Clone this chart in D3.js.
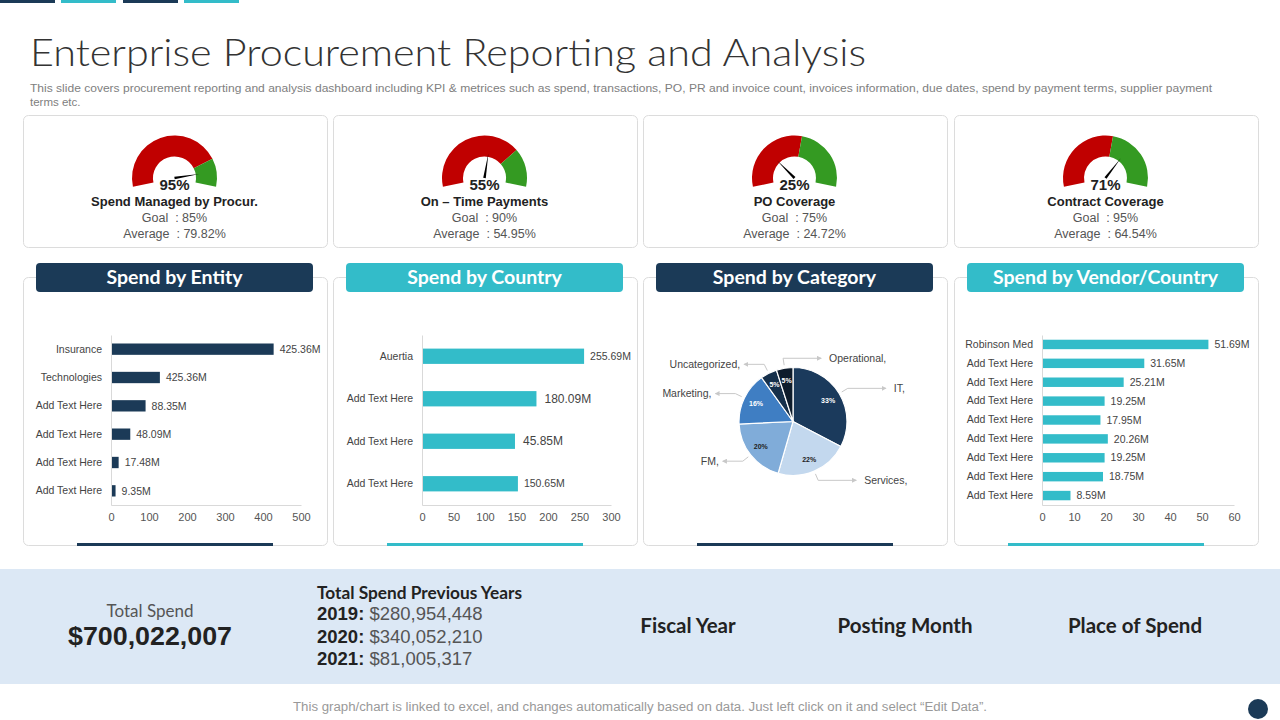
<!DOCTYPE html>
<html>
<head>
<meta charset="utf-8">
<script src="https://cdn.jsdelivr.net/npm/d3@7"></script>
<style>
  body { margin: 0; background: #fff; }
  svg { display: block; }
  .pre { white-space: pre; }
</style>
</head>
<body>
<div id="chart"></div>
<script>
// ---- data ----
const kpiTitles = ["Spend Managed by Procur.", "On \u2013 Time Payments", "PO Coverage", "Contract Coverage"];
const kpiValues = [95, 55, 25, 71];
const kpiGoals = ["85%", "90%", "75%", "95%"];
const kpiAverages = ["79.82%", "54.95%", "24.72%", "64.54%"];
const kpiRedShare = [81, 74, 55, 55];   // share of the dial drawn red

const entityNames = ["Insurance", "Technologies", "Add Text Here", "Add Text Here", "Add Text Here", "Add Text Here"];
const entityValues = [425.36, 126, 88.35, 48.09, 17.48, 9.35];
const entityLabels = ["425.36M", "425.36M", "88.35M", "48.09M", "17.48M", "9.35M"];
const entityTicks = [0, 100, 200, 300, 400, 500];

const countryNames = ["Auertia", "Add Text Here", "Add Text Here", "Add Text Here"];
const countryValues = [255.69, 180.09, 146, 150.65];
const countryLabels = ["255.69M", "180.09M", "45.85M", "150.65M"];
const countryTicks = [0, 50, 100, 150, 200, 250, 300];

const categoryNames = ["IT", "Services", "FM", "Marketing", "Uncategorized", "Operational"];
const categoryShares = [33, 22, 20, 16, 5, 5];

const vendorNames = ["Robinson Med", "Add Text Here", "Add Text Here", "Add Text Here", "Add Text Here",
  "Add Text Here", "Add Text Here", "Add Text Here", "Add Text Here"];
const vendorValues = [51.69, 31.65, 25.21, 19.25, 17.95, 20.26, 19.25, 18.75, 8.59];
const vendorTicks = [0, 10, 20, 30, 40, 50, 60];

const prevYears = ["2019:", "2020:", "2021:"];
const prevSpend = ["$280,954,448", "$340,052,210", "$81,005,317"];
const totalSpend = "$700,022,007";
const filters = ["Fiscal Year", "Posting Month", "Place of Spend"];

// ---- styles ----
const NAVY = "#1b3a57", TEAL = "#33bcc9", RED = "#c00000", GREEN = "#349a22";
const HEAD = "Lato, 'Open Sans', sans-serif";
const BODY = "'Liberation Sans', Arial, sans-serif";

const svg = d3.select("#chart").append("svg")
  .attr("width", 1280).attr("height", 720);

// top strips
[[0, NAVY], [61, TEAL], [123, NAVY], [184, TEAL]].forEach(([x, c]) => {
  svg.append("rect").attr("x", x).attr("y", 0).attr("width", 55).attr("height", 3).attr("fill", c);
});

svg.append("text")
  .attr("x", 30).attr("y", 66)
  .attr("textLength", 836).attr("lengthAdjust", "spacingAndGlyphs")
  .style("font-family", HEAD).style("font-weight", 300).style("font-size", "38px")
  .attr("fill", "#333")
  .text("Enterprise Procurement Reporting and Analysis");

const sub = svg.append("g").style("font-family", BODY).style("font-size", "11.5px").attr("fill", "#808080");
sub.append("text").attr("x", 30).attr("y", 92)
  .attr("textLength", 1182).attr("lengthAdjust", "spacingAndGlyphs")
  .text("This slide covers procurement reporting and analysis dashboard including KPI & metrices such as spend, transactions, PO, PR and invoice count, invoices information, due dates, spend by payment terms, supplier payment");
sub.append("text").attr("x", 30).attr("y", 106).text("terms etc.");

const cardX = [23, 333, 643, 954];
const cardW = 304;

function card(x, y, h) {
  svg.append("rect").attr("x", x + 0.5).attr("y", y + 0.5).attr("width", cardW).attr("height", h)
    .attr("rx", 5).attr("fill", "#fff").attr("stroke", "#dcdcdc");
}

// ---- KPI gauges ----
const dialScale = d3.scaleLinear().domain([0, 100]).range([-102, 102].map(d => d * Math.PI / 180));
const needleScale = d3.scaleLinear().domain([0, 100]).range([-Math.PI / 2, Math.PI / 2]);
const gaugeArc = d3.arc().innerRadius(21.5).outerRadius(42.5);

kpiTitles.forEach((title, i) => {
  const x0 = cardX[i];
  card(x0, 115, 132);
  const cx = x0 + 151.5, cy = 178;
  const g = svg.append("g").attr("transform", `translate(${cx},${cy})`);
  g.append("path").attr("d", gaugeArc({ startAngle: dialScale(0), endAngle: dialScale(kpiRedShare[i]) })).attr("fill", RED);
  g.append("path").attr("d", gaugeArc({ startAngle: dialScale(kpiRedShare[i]), endAngle: dialScale(100) })).attr("fill", GREEN);

  const a = needleScale(kpiValues[i]);
  const tip = [25 * Math.sin(a), -25 * Math.cos(a)];
  const px = Math.cos(a) * 1.3, py = Math.sin(a) * 1.3;
  g.append("path")
    .attr("d", `M${-px},${-py}L${tip[0]},${tip[1]}L${px},${py}Z`)
    .attr("fill", "#000");

  g.append("text").attr("y", 12).attr("text-anchor", "middle")
    .style("font-family", BODY).style("font-weight", "bold").style("font-size", "15px")
    .attr("fill", "#222").text(kpiValues[i] + "%");

  const t = svg.append("g").attr("text-anchor", "middle").style("font-family", BODY);
  t.append("text").attr("x", cx).attr("y", 206).style("font-weight", "bold").style("font-size", "13px")
    .attr("fill", "#222").text(title);
  t.append("text").attr("x", cx).attr("y", 222).style("font-size", "12.5px").attr("fill", "#555")
    .attr("class", "pre").text("Goal  : " + kpiGoals[i]);
  t.append("text").attr("x", cx).attr("y", 238).style("font-size", "12.5px").attr("fill", "#555")
    .attr("class", "pre").text("Average  : " + kpiAverages[i]);
});

// ---- chart cards ----
const tabTitles = ["Spend by Entity", "Spend by Country", "Spend by Category", "Spend by Vendor/Country"];
const tabColors = [NAVY, TEAL, NAVY, TEAL];

tabTitles.forEach((title, i) => {
  const x0 = cardX[i];
  card(x0, 277, 268);
  svg.append("rect").attr("x", x0 + 13).attr("y", 263).attr("width", 277).attr("height", 29)
    .attr("rx", 4).attr("fill", tabColors[i]);
  svg.append("text").attr("x", x0 + 151.5).attr("y", 284).attr("text-anchor", "middle")
    .style("font-family", HEAD).style("font-weight", "bold").style("font-size", "19.5px")
    .attr("fill", "#fff").text(title);
  svg.append("rect").attr("x", x0 + 54).attr("y", 543).attr("width", 196).attr("height", 3)
    .attr("fill", tabColors[i]);
});

function barChart(opt) {
  const x = d3.scaleLinear().domain(opt.domain).range([opt.left, opt.right]);
  const y = d3.scaleBand().domain(d3.range(opt.names.length)).range([335, 505]).paddingInner(opt.pad).paddingOuter(opt.pad / 2);
  const g = svg.append("g");

  const xAxis = g.append("g").attr("transform", "translate(0,505)")
    .call(d3.axisBottom(x).tickValues(opt.ticks).tickSize(0).tickPadding(8).tickFormat(d3.format("d")));
  xAxis.select(".domain").attr("stroke", "#d9d9d9");
  xAxis.selectAll("text").style("font-family", BODY).style("font-size", "11px").attr("fill", "#555");

  const yAxis = g.append("g").attr("transform", `translate(${opt.left},0)`)
    .call(d3.axisLeft(y).tickSize(0).tickPadding(9).tickFormat(i => opt.names[i]));
  yAxis.select(".domain").attr("stroke", "#d9d9d9");
  yAxis.selectAll("text").style("font-family", BODY).style("font-size", "10.5px").attr("fill", "#444");

  g.selectAll(".bar").data(opt.values).join("rect")
    .attr("class", "bar")
    .attr("x", x(0) + 1)
    .attr("y", (d, i) => y(i))
    .attr("width", d => x(d) - x(0))
    .attr("height", y.bandwidth())
    .attr("fill", opt.color);

  g.selectAll(".val").data(opt.values).join("text")
    .attr("class", "val")
    .attr("x", (d, i) => x(d) + (opt.big.includes(i) ? 9 : 7))
    .attr("y", (d, i) => y(i) + y.bandwidth() / 2)
    .attr("dy", "0.35em")
    .style("font-family", BODY)
    .style("font-size", (d, i) => opt.big.includes(i) ? "12px" : "10.5px")
    .attr("fill", "#444")
    .text((d, i) => opt.labels[i]);
}

barChart({ names: entityNames, values: entityValues, labels: entityLabels, ticks: entityTicks,
  domain: [0, 500], left: 111, right: 301, pad: 0.6, color: NAVY, big: [] });
barChart({ names: countryNames, values: countryValues, labels: countryLabels, ticks: countryTicks,
  domain: [0, 300], left: 422, right: 611, pad: 0.64, color: TEAL, big: [1, 2] });
barChart({ names: vendorNames, values: vendorValues, labels: vendorValues.map(v => v.toFixed(2) + "M"), ticks: vendorTicks,
  domain: [0, 60], left: 1042, right: 1234, pad: 0.5, color: TEAL, big: [] });

// ---- pie ----
const pieColors = ["#1b3a5c", "#c3d8ee", "#80acd9", "#3f7ec3", "#16304b", "#0e1c2c"];
const pieText = ["#fff", "#222", "#222", "#fff", "#fff", "#fff"];
const R = 54, pcx = 793, pcy = 421.5;
const pie = d3.pie().sort(null).value(d => d)(categoryShares);
const arc = d3.arc().innerRadius(0).outerRadius(R);
const labelArc = d3.arc().innerRadius(R * 0.76).outerRadius(R * 0.76);
const pg = svg.append("g").attr("transform", `translate(${pcx},${pcy})`);

pg.selectAll(".slice").data(pie).join("path")
  .attr("d", arc).attr("fill", (d, i) => pieColors[i])
  .attr("stroke", "#fff").attr("stroke-width", 1.2);

pg.selectAll(".pct").data(pie).join("text")
  .attr("transform", d => `translate(${labelArc.centroid(d)})`)
  .attr("text-anchor", "middle").attr("dy", "0.35em")
  .style("font-family", BODY).style("font-weight", "bold").style("font-size", "7px")
  .attr("fill", (d, i) => pieText[i])
  .text(d => d.data + "%");

svg.append("defs").append("marker")
  .attr("id", "arrow").attr("viewBox", "0 0 6 6").attr("refX", 5).attr("refY", 3)
  .attr("markerWidth", 5).attr("markerHeight", 5).attr("orient", "auto")
  .append("path").attr("d", "M0,0L6,3L0,6Z").attr("fill", "#c8c8c8");

pie.forEach((d, i) => {
  const a = (d.startAngle + d.endAngle) / 2;
  const right = Math.sin(a) > -0.2;
  const p1 = [(R + 3) * Math.sin(a), -(R + 3) * Math.cos(a)];
  const p2 = [(R + 10) * Math.sin(a), -(R + 10) * Math.cos(a)];
  const p3 = [p2[0] + (right ? 38 : -20), p2[1]];
  pg.append("path")
    .attr("d", `M${p1}L${p2}L${p3}`)
    .attr("fill", "none").attr("stroke", "#c8c8c8").attr("stroke-width", 1)
    .attr("marker-end", "url(#arrow)");
  pg.append("text")
    .attr("x", p3[0] + (right ? 8 : -4)).attr("y", p3[1]).attr("dy", "0.35em")
    .attr("text-anchor", right ? "start" : "end")
    .style("font-family", BODY).style("font-size", "10.5px").attr("fill", "#444")
    .text(categoryNames[i] + ",");
});

// ---- bottom summary band ----
svg.append("rect").attr("x", 0).attr("y", 569).attr("width", 1280).attr("height", 115).attr("fill", "#dce8f5");

svg.append("text").attr("x", 150).attr("y", 617).attr("text-anchor", "middle")
  .style("font-family", HEAD).style("font-size", "17px").attr("fill", "#555").text("Total Spend");
svg.append("text").attr("x", 150).attr("y", 645).attr("text-anchor", "middle")
  .attr("textLength", 164).attr("lengthAdjust", "spacingAndGlyphs")
  .style("font-family", BODY).style("font-weight", "bold").style("font-size", "26px").attr("fill", "#222")
  .text(totalSpend);

svg.append("text").attr("x", 317).attr("y", 599)
  .attr("textLength", 205).attr("lengthAdjust", "spacingAndGlyphs")
  .style("font-family", HEAD).style("font-weight", "bold").style("font-size", "16.5px").attr("fill", "#222")
  .text("Total Spend Previous Years");

prevYears.forEach((yr, i) => {
  const t = svg.append("text").attr("x", 317).attr("y", 620 + i * 22.5)
    .style("font-family", BODY).style("font-size", "18.5px").attr("class", "pre");
  t.append("tspan").style("font-weight", "bold").attr("fill", "#222").text(yr + " ");
  t.append("tspan").attr("fill", "#555").text(prevSpend[i]);
});

[688, 905, 1135].forEach((x, i) => {
  svg.append("text").attr("x", x).attr("y", 633).attr("text-anchor", "middle")
    .style("font-family", HEAD).style("font-weight", "bold").style("font-size", "20.5px").attr("fill", "#222")
    .text(filters[i]);
});

svg.append("text").attr("x", 640).attr("y", 711).attr("text-anchor", "middle")
  .attr("textLength", 694).attr("lengthAdjust", "spacingAndGlyphs")
  .style("font-family", BODY).style("font-size", "12px").attr("fill", "#999")
  .text("This graph/chart is linked to excel, and changes automatically based on data. Just left click on it and select \u201cEdit Data\u201d.");

svg.append("circle").attr("cx", 1258).attr("cy", 709).attr("r", 10).attr("fill", NAVY);
</script>
</body>
</html>
